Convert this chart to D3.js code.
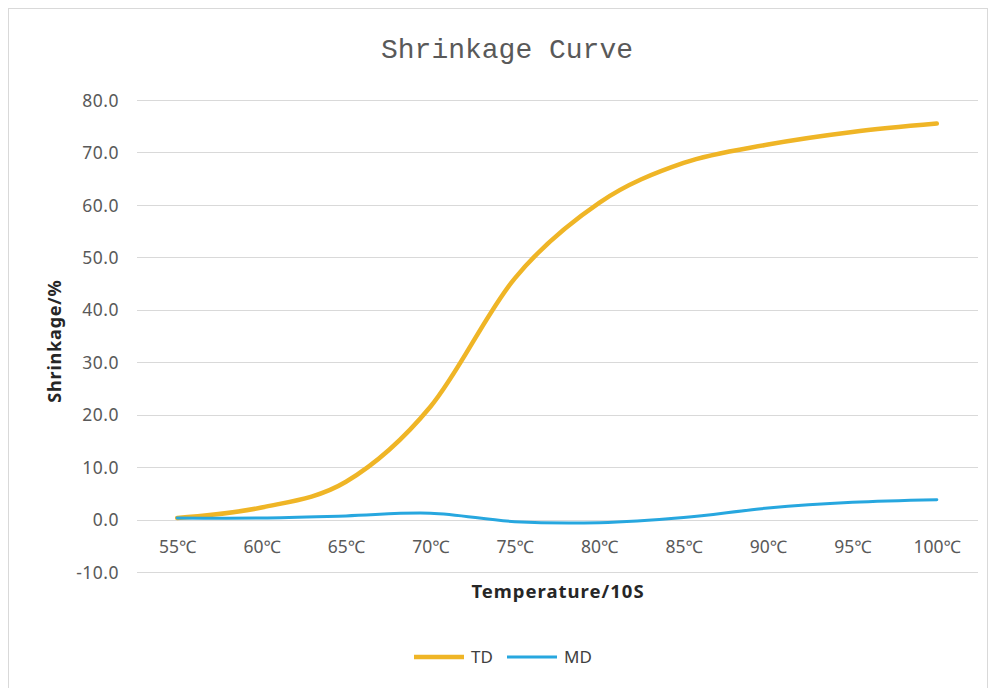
<!DOCTYPE html>
<html>
<head>
<meta charset="utf-8">
<script src="https://cdn.jsdelivr.net/npm/d3@7"></script>
<style>
  html, body { margin: 0; padding: 0; background: #fff; }
  #chart { width: 995px; height: 688px; }
</style>
</head>
<body>
<div id="chart"></div>
<script>
const temperatures = ['55℃', '60℃', '65℃', '70℃', '75℃', '80℃', '85℃', '90℃', '95℃', '100℃']
const tdValues = [0.3, 2.3, 7.2, 21.5, 46.0, 60.4, 68.0, 71.5, 73.9, 75.5]
const mdValues = [0.3, 0.3, 0.7, 1.2, -0.4, -0.6, 0.4, 2.2, 3.3, 3.8]
const yTicks = [-10, 0, 10, 20, 30, 40, 50, 60, 70, 80]

const series = [
  {name: 'TD', values: tdValues, color: '#efb526', width: 4.5},
  {name: 'MD', values: mdValues, color: '#27a7df', width: 3},
]

class ShrinkageCurveChart {
  constructor(selector) {
    this.selector = selector
    this.width = 995
    this.height = 688
    this.plot = {left: 135, right: 979, top: 100, bottom: 572}
    this.fontFamily = '"Noto Sans", "Open Sans", sans-serif'
  }

  scales() {
    this.x = d3.scalePoint()
      .domain(temperatures)
      .range([this.plot.left, this.plot.right])
      .padding(0.5)
    this.y = d3.scaleLinear()
      .domain([-10, 80])
      .range([this.plot.bottom, this.plot.top])
  }

  draw() {
    this.scales()
    const svg = d3.select(this.selector).append('svg')
      .attr('width', this.width)
      .attr('height', this.height)

    // outer frame, like the excel chart area
    svg.append('rect')
      .attr('x', 8.5).attr('y', 8.5)
      .attr('width', 979).attr('height', 700)
      .attr('fill', '#fff')
      .attr('stroke', '#d9d9d9')

    svg.append('text')
      .attr('x', 507).attr('y', 58)
      .attr('text-anchor', 'middle')
      .style('font-family', '"Liberation Mono", monospace')
      .style('font-size', '28px')
      .attr('fill', '#595959')
      .text('Shrinkage Curve')

    // gridlines
    svg.append('g')
      .selectAll('line')
      .data(yTicks)
      .join('line')
        .attr('x1', this.plot.left + 2)
        .attr('x2', this.plot.right - 1)
        .attr('y1', (d) => Math.round(this.y(d)) + 0.5)
        .attr('y2', (d) => Math.round(this.y(d)) + 0.5)
        .attr('stroke', '#d9d9d9')
        .attr('stroke-width', 1.2)

    const yAxis = svg.append('g')
      .attr('transform', `translate(${this.plot.left - 13}, 0)`)
      .call(d3.axisLeft(this.y).tickValues(yTicks).tickSize(0).tickFormat((d) => d.toFixed(1)))
    yAxis.select('.domain').remove()
    yAxis.selectAll('text')
      .attr('dy', '0.35em')
      .style('font-family', this.fontFamily)
      .style('font-size', '17.5px')
      .style('letter-spacing', '0.5px')
      .attr('fill', '#595959')

    const xAxis = svg.append('g')
      .attr('transform', `translate(0, ${this.y(0)})`)
      .call(d3.axisBottom(this.x).tickSize(0).tickPadding(0))
    xAxis.select('.domain').remove()
    xAxis.selectAll('text')
      .attr('y', 33)
      .attr('dy', 0)
      .style('font-family', this.fontFamily)
      .style('font-size', '17.5px')
      .attr('fill', '#595959')

    svg.append('text')
      .attr('transform', 'translate(61, 341) rotate(-90)')
      .attr('text-anchor', 'middle')
      .style('font-family', this.fontFamily)
      .style('font-size', '18px')
      .style('font-weight', 'bold')
      .style('letter-spacing', '0.8px')
      .attr('fill', '#262626')
      .text('Shrinkage/%')

    svg.append('text')
      .attr('x', 558).attr('y', 598)
      .attr('text-anchor', 'middle')
      .style('font-family', this.fontFamily)
      .style('font-size', '18.5px')
      .style('font-weight', 'bold')
      .style('letter-spacing', '1px')
      .attr('fill', '#262626')
      .text('Temperature/10S')

    // excel "smoothed line" is close to a uniform catmull-rom
    const line = d3.line()
      .x((d, i) => this.x(temperatures[i]))
      .y((d) => this.y(d))
      .curve(d3.curveCatmullRom.alpha(0))

    svg.append('g')
      .selectAll('path')
      .data(series)
      .join('path')
        .attr('d', (d) => line(d.values))
        .attr('fill', 'none')
        .attr('stroke', (d) => d.color)
        .attr('stroke-width', (d) => d.width)
        .attr('stroke-linecap', 'round')

    // legend
    const legendX = [414, 507]
    const legend = svg.append('g')
      .selectAll('g')
      .data(series)
      .join('g')
        .attr('transform', (d, i) => `translate(${legendX[i]}, 657)`)
    legend.append('line')
      .attr('x1', 0).attr('x2', 50)
      .attr('stroke', (d) => d.color)
      .attr('stroke-width', (d) => d.width)
    legend.append('text')
      .attr('x', 57)
      .attr('dy', '0.35em')
      .style('font-family', this.fontFamily)
      .style('font-size', '17px')
      .attr('fill', '#404040')
      .text((d) => d.name)
  }
}

const chart = new ShrinkageCurveChart('#chart')
chart.draw()
</script>
</body>
</html>
